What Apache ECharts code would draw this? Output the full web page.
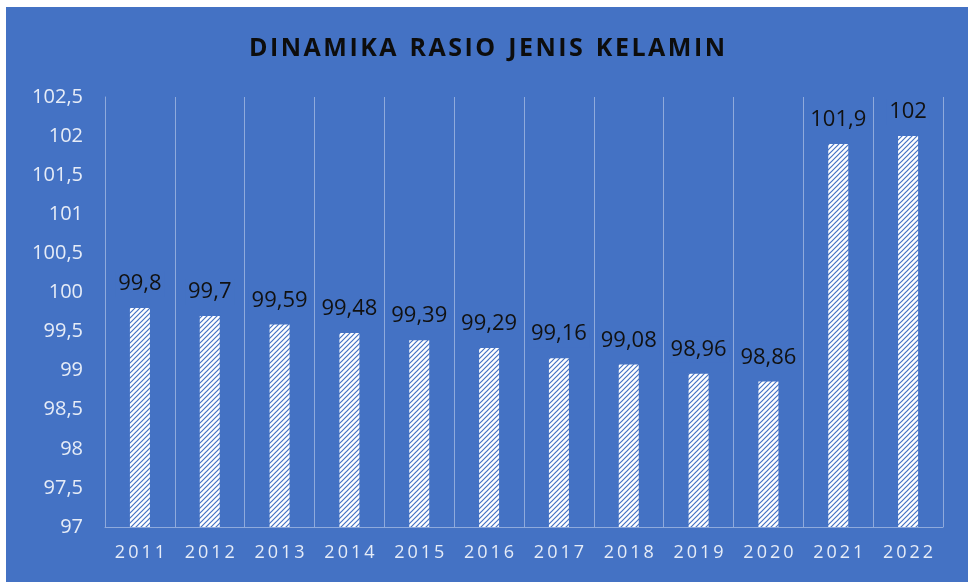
<!DOCTYPE html>
<html>
<head>
<meta charset="utf-8">
<script src="https://cdn.jsdelivr.net/npm/echarts@6/dist/echarts.min.js"></script>
<style>
  html, body { margin: 0; padding: 0; background: #fff; }
  #wrap { position: relative; width: 968px; height: 582px; }
  #chart { position: absolute; left: 6px; top: 7px; width: 962px; height: 575px; }
</style>
</head>
<body>
<div id="wrap"><div id="chart"></div></div>
<script>
// data
const years = ['2011', '2012', '2013', '2014', '2015', '2016', '2017', '2018', '2019', '2020', '2021', '2022'];
const ratio = [99.8, 99.7, 99.59, 99.48, 99.39, 99.29, 99.16, 99.08, 98.96, 98.86, 101.9, 102];

const BG = '#4472C4';
const LINE = '#8faadc';

// hatched fill for the bars
function makeHatch() {
    const c = document.createElement('canvas');
    c.width = 5;
    c.height = 5;
    const ctx = c.getContext('2d');
    ctx.fillStyle = '#ffffff';
    ctx.fillRect(0, 0, 5, 5);
    ctx.strokeStyle = BG;
    ctx.lineWidth = 1.2;
    ctx.beginPath();
    ctx.moveTo(-1, 6); ctx.lineTo(6, -1);
    ctx.moveTo(-1, 1); ctx.lineTo(1, -1);
    ctx.moveTo(4, 6); ctx.lineTo(6, 4);
    ctx.stroke();
    return c;
}

const spaced = (s, sep) => s.split('').join(sep);
const titleText = 'DINAMIKA RASIO JENIS KELAMIN'.split(' ').map(w => spaced(w, '\u200A')).join('  ');

const chart = echarts.init(document.getElementById('chart'));

chart.setOption({
    backgroundColor: BG,
    animation: false,
    title: {
        text: titleText,
        left: 'center',
        top: 24,
        textStyle: {
            fontFamily: 'Open Sans',
            fontWeight: 'bold',
            fontSize: 25,
            color: '#0d0d0d'
        }
    },
    grid: { left: 99, right: 25, top: 90, bottom: 55 },
    xAxis: {
        type: 'category',
        data: years,
        axisLine: { lineStyle: { color: LINE, width: 1 } },
        axisTick: { show: false },
        splitLine: { show: true, interval: 0, lineStyle: { color: LINE, width: 1 } },
        axisLabel: {
            margin: 17,
            fontFamily: 'Open Sans',
            fontSize: 18,
            color: '#e6ecf7',
            formatter: v => spaced(v, '\u2009')
        }
    },
    yAxis: {
        type: 'value',
        min: 97,
        max: 102.5,
        interval: 0.5,
        axisLine: { show: true, lineStyle: { color: LINE, width: 1 } },
        axisTick: { show: false },
        splitLine: { show: false },
        axisLabel: {
            margin: 22,
            fontFamily: 'Open Sans',
            fontSize: 20,
            color: '#e6ecf7',
            formatter: v => String(v).replace('.', ',')
        }
    },
    series: [{
        type: 'bar',
        data: ratio,
        barWidth: 20,
        itemStyle: { color: { image: makeHatch(), repeat: 'repeat' } },
        label: {
            show: true,
            position: 'top',
            distance: 11,
            fontFamily: 'Open Sans',
            fontSize: 22,
            color: '#111111',
            backgroundColor: BG,
            padding: [2, 3],
            formatter: p => String(p.value).replace('.', ',')
        }
    }]
});
</script>
</body>
</html>
